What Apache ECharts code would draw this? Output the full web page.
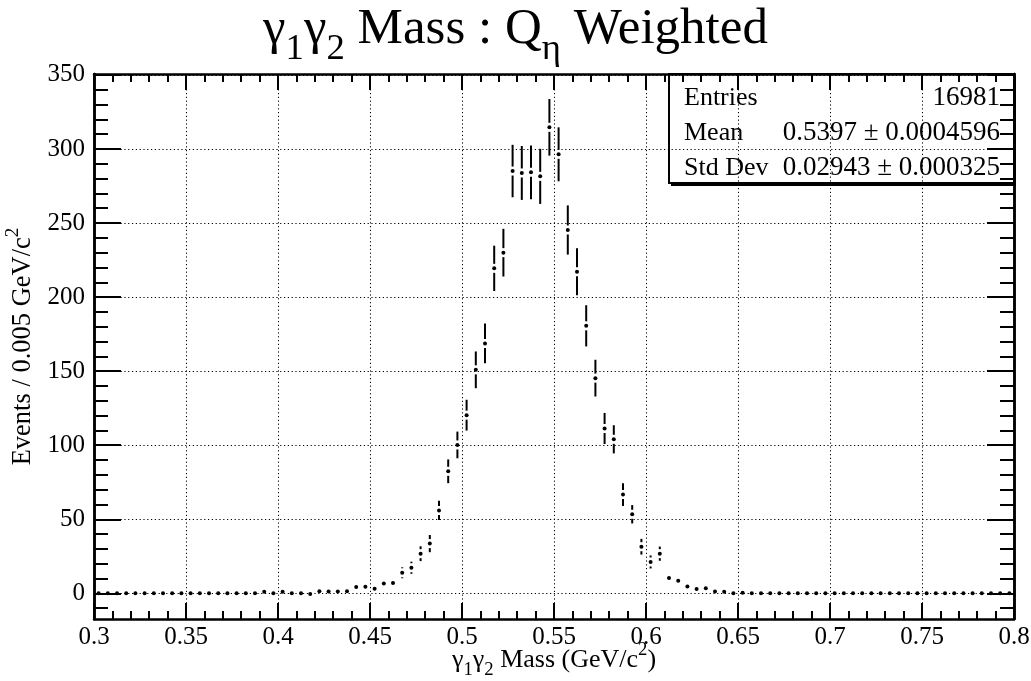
<!DOCTYPE html>
<html>
<head>
<meta charset="utf-8">
<script src="https://cdn.jsdelivr.net/npm/echarts@6.0.0/dist/echarts.min.js"></script>
<style>
  html, body { margin: 0; padding: 0; background: #fff; }
  #main { width: 1031px; height: 681px; }
</style>
</head>
<body>
<div id="main"></div>
<script>
// histogram binning: 100 bins of 0.005 GeV/c2 from 0.3 to 0.8
const binLow = 0.3
const binWidth = 0.005

// bin contents (weighted)
const counts = [
  0, 0, 0, 0, 0, 0, 0, 0, 0, 0,
  0, 0, 0, 0, 0, 0, 0, 0, 1.1, 0,
  1.1, 0, 0, -0.5, 1.5, 1.3, 1.3, 1.5, 4.3, 4.5,
  3.1, 6.7, 7.0, 13.9, 17.3, 26.8, 33.6, 56.0, 82.4, 100.2,
  120.3, 150.9, 168.7, 219.4, 230.0, 285.1, 283.8, 284.2, 281.5, 314.6,
  296.4, 245.3, 217.1, 180.6, 145.3, 111.3, 104.0, 66.7, 53.4, 31.5,
  21.2, 26.8, 10.3, 8.5, 4.7, 2.9, 3.4, 1.3, 1.1, 0,
  0.4, 0, 0, 0, 0, 0, 0, 0, 0, 0,
  0, 0, 0, 0, 0, 0, 0, 0, 0, 0,
  0, 0, 0, 0, 0, 0, 0, 0, 0, 0
]

// error bar half lengths
const errors = [
  0, 0, 0, 0, 0, 0, 0, 0, 0, 0,
  0, 0, 0, 0, 0, 0, 0, 0, 1.0, 0,
  1.0, 0, 0, 0.8, 1.2, 1.2, 1.2, 1.3, 2.1, 2.2,
  1.8, 2.6, 2.7, 3.7, 4.1, 5.0, 5.8, 6.5, 8.0, 9.0,
  10.4, 12.4, 13.4, 15.3, 16.1, 17.7, 18.2, 18.2, 18.6, 19.1,
  18.2, 16.6, 15.8, 13.9, 12.4, 10.5, 9.5, 7.7, 6.2, 5.3,
  4.4, 4.8, 3.0, 2.8, 2.1, 1.6, 1.8, 1.1, 1.0, 0,
  0.6, 0, 0, 0, 0, 0, 0, 0, 0, 0,
  0, 0, 0, 0, 0, 0, 0, 0, 0, 0,
  0, 0, 0, 0, 0, 0, 0, 0, 0, 0
]

const yMajorTicks = [0, 50, 100, 150, 200, 250, 300, 350]
const yMinorTicks = [-10, 0, 10, 20, 30, 40, 50, 60, 70, 80, 90, 100, 110, 120, 130, 140, 150, 160, 170,
  180, 190, 200, 210, 220, 230, 240, 250, 260, 270, 280, 290, 300, 310, 320, 330, 340, 350]

const statRows = [
  ['Entries', '16981'],
  ['Mean', '0.5397 ± 0.0004596'],
  ['Std Dev', '0.02943 ± 0.000325']
]

const FONT = 'Liberation Serif'
const chart = echarts.init(document.getElementById('main'), null, { renderer: 'canvas' })

const points = counts.map((v, i) => [binLow + (i + 0.5) * binWidth, v, errors[i]])

const gridDots = { color: '#000', width: 1, type: [1.2, 2.6] }
// rich styles: m = normal text, s = subscript, p = superscript
const subRich = (size) => ({
  m: { fontFamily: FONT, fontWeight: 'normal', fontSize: size, color: '#000', lineHeight: size * 1.5, verticalAlign: 'middle' },
  s: { fontFamily: FONT, fontWeight: 'normal', fontSize: size * 0.72, color: '#000', lineHeight: size * 0.9, verticalAlign: 'bottom' },
  p: { fontFamily: FONT, fontWeight: 'normal', fontSize: size * 0.72, color: '#000', lineHeight: size * 0.8, verticalAlign: 'top' }
})

function xAxisBase (pos) {
  return {
    type: 'value',
    position: pos,
    min: 0.3,
    max: 0.8,
    interval: 0.05,
    axisLine: { onZero: false, lineStyle: { color: '#000', width: 2.5 } },
    axisTick: { inside: true, length: 16, lineStyle: { color: '#000', width: 2 } },
    minorTick: { show: true, splitNumber: 5, length: 8, lineStyle: { color: '#000', width: 2 } },
    axisLabel: { show: false },
    splitLine: { show: false }
  }
}

function yAxisBase (pos, ticks, len) {
  return {
    type: 'value',
    position: pos,
    min: -17.3,
    max: 350.6,
    axisLine: { onZero: false, lineStyle: { color: '#000', width: 2.5 } },
    axisTick: { inside: true, length: len, customValues: ticks, lineStyle: { color: '#000', width: 2 } },
    axisLabel: { show: false },
    splitLine: { show: false }
  }
}

const xBottom = xAxisBase('bottom')
xBottom.axisLabel = { show: true, fontFamily: FONT, fontSize: 25, color: '#000', margin: 6 }
xBottom.splitLine = { show: true, lineStyle: gridDots }
xBottom.name = '{m|γ}{s|1}{m|γ}{s|2}{m| Mass (GeV/c}{p|2}{m|)}'
xBottom.nameLocation = 'middle'
xBottom.nameGap = 22
xBottom.nameMoveOverlap = false
xBottom.nameTextStyle = { rich: subRich(26) }

const yLeft = yAxisBase('left', yMajorTicks, 27)
yLeft.axisLabel = { show: true, customValues: yMajorTicks, fontFamily: FONT, fontSize: 25, color: '#000', margin: 9 }
yLeft.splitLine = { show: true, lineStyle: gridDots }
yLeft.name = '{m|Events / 0.005 GeV/c}{p|2}'
yLeft.nameLocation = 'middle'
yLeft.nameGap = 51
yLeft.nameRotate = 90
yLeft.nameMoveOverlap = false
yLeft.nameTextStyle = { rich: subRich(26.5) }

const option = {
  animation: false,
  backgroundColor: '#fff',
  title: {
    text: '{m|γ}{s|1}{m|γ}{s|2}{m| Mass : Q}{s|η}{m| Weighted}',
    left: 'center',
    top: -14,
    textStyle: { rich: subRich(51) }
  },
  grid: { left: 94, right: 17, top: 74, bottom: 62, outerBoundsMode: 'none', containLabel: false },
  xAxis: [xBottom, xAxisBase('top')],
  yAxis: [
    yLeft,
    yAxisBase('left', yMinorTicks, 14),
    yAxisBase('right', yMajorTicks, 27),
    yAxisBase('right', yMinorTicks, 14)
  ],
  series: [{
    type: 'custom',
    xAxisIndex: 0,
    yAxisIndex: 0,
    data: points,
    renderItem: function (params, api) {
      const x = api.value(0)
      const v = api.value(1)
      const e = api.value(2)
      const c = api.coord([x, v])
      const hi = api.coord([x, v + e])
      const lo = api.coord([x, v - e])
      const gap = 4.5
      const kids = []
      if (c[1] - hi[1] > gap) {
        kids.push({ type: 'line', shape: { x1: c[0], y1: hi[1], x2: c[0], y2: c[1] - gap }, style: { stroke: '#000', lineWidth: 2 } })
      }
      if (lo[1] - c[1] > gap) {
        kids.push({ type: 'line', shape: { x1: c[0], y1: c[1] + gap, x2: c[0], y2: lo[1] }, style: { stroke: '#000', lineWidth: 2 } })
      }
      kids.push({ type: 'circle', shape: { cx: c[0], cy: c[1], r: 2 }, style: { fill: '#000' } })
      return { type: 'group', children: kids }
    }
  }],
  graphic: [{
    type: 'group',
    left: 668,
    top: 73,
    children: [
      { type: 'rect', shape: { x: 2, y: 2, width: 345, height: 110 }, style: { fill: '#000' } },
      { type: 'rect', shape: { x: 0, y: 0, width: 345, height: 109 }, style: { fill: '#fff', stroke: '#000', lineWidth: 2 } }
    ].concat(statRows.flatMap((r, i) => [
      { type: 'text', x: 15, y: 24 + i * 35, style: { text: r[0], font: '26px "Liberation Serif"', fill: '#000', verticalAlign: 'middle' } },
      { type: 'text', x: 331, y: 24 + i * 35, style: { text: r[1], font: '27px "Liberation Serif"', fill: '#000', align: 'right', verticalAlign: 'middle' } }
    ]))
  }]
}

chart.setOption(option)
</script>
</body>
</html>
